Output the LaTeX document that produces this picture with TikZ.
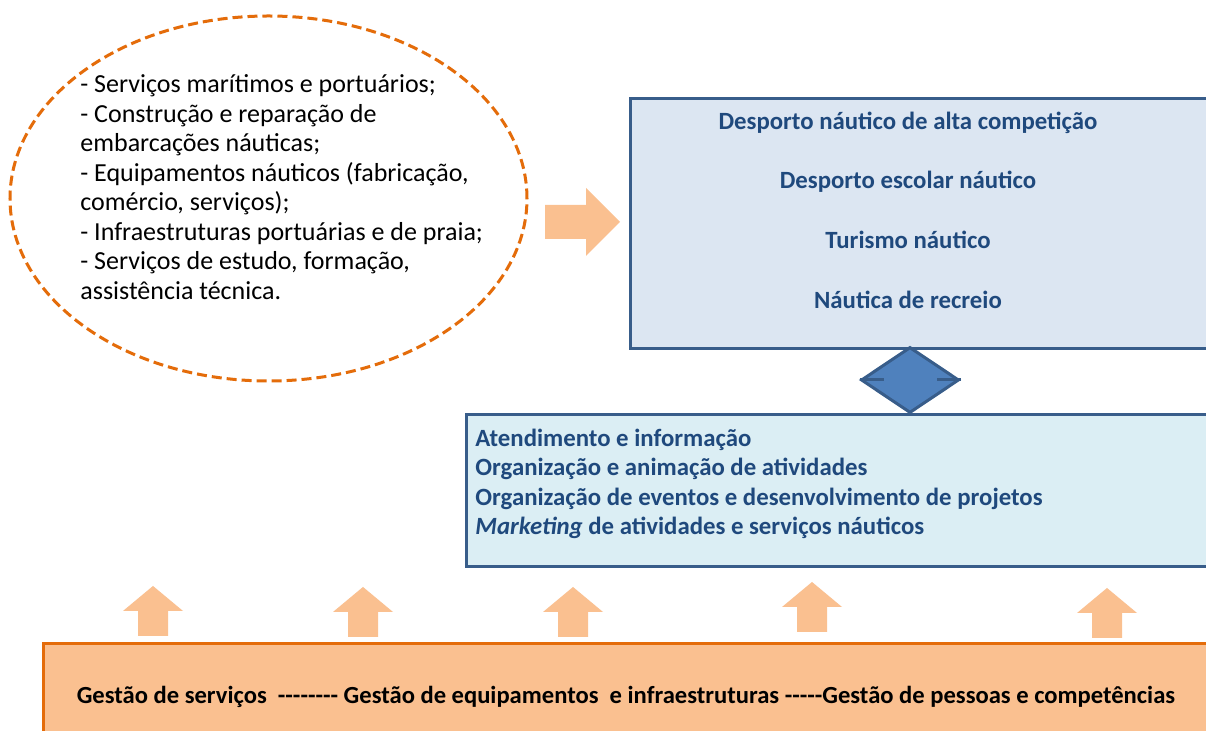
\documentclass[tikz,border=0pt]{standalone}
\usepackage{fontspec}
\setmainfont{Carlito}[Ligatures=TeXOff]
\usetikzlibrary{shapes.geometric}
\definecolor{laranja}{HTML}{E46C0A}
\definecolor{pessego}{HTML}{FAC090}
\definecolor{azulborda}{HTML}{385D8A}
\definecolor{azultexto}{HTML}{1F497D}
\definecolor{azulclaro}{HTML}{DCE6F2}
\definecolor{cianoclaro}{HTML}{DBEEF4}
\definecolor{azulmeio}{HTML}{4F81BD}
\tikzset{
  caixa/.style={draw=azulborda,line width=1.5pt,inner sep=0,anchor=north west},
  titulo/.style={text=azultexto,inner sep=0,font=\fontsize{12.4}{14.7}\selectfont\bfseries},
  seta/.style={fill=pessego}
}
\begin{document}
\begin{tikzpicture}[x=0.5pt,y=-0.5pt]
\clip (0,0) rectangle (1206,731);
\fill[white] (0,0) rectangle (1206,731);

% elipse com as atividades de suporte
\node[ellipse,draw=laranja,line width=1.5pt,dash pattern=on 5pt off 2.5pt,
  minimum width=258.5pt,minimum height=182.5pt,inner sep=0] (servicos) at (268.5,198.5) {};
\node[anchor=west,align=left,inner sep=0,font=\fontsize{13}{14.75}\selectfont] (lista) at (80,187)
{- Serviços marítimos e portuários;\\
- Construção e reparação de\\
embarcações náuticas;\\
- Equipamentos náuticos (fabricação,\\
comércio, serviços);\\
- Infraestruturas portuárias e de praia;\\
- Serviços de estudo, formação,\\
assistência técnica.};

\fill[seta] (545,205)--(586,205)--(586,188)--(620,222)--(586,256)--(586,239)--(545,239)--cycle;

% caixa superior
\node[caixa,fill=azulclaro,minimum width=295pt,minimum height=125pt] (desporto) at (629,97) {};
\node[titulo] (alta) at (908,123) {Desporto náutico de alta competição};
\node[titulo] (escolar) at (908,182) {Desporto escolar náutico};
\node[titulo] (turismo) at (908,240) {Turismo náutico};
\node[titulo] (recreio) at (908,300) {Náutica de recreio};

% caixa do meio
\node[caixa,fill=cianoclaro,minimum width=380pt,minimum height=76pt] (animacao) at (465,413) {};
\node[titulo,anchor=west,align=left] (funcoes) at (475,484)
{Atendimento e informação\\
Organização e animação de atividades\\
Organização de eventos e desenvolvimento de projetos\\
\textit{Marketing} de atividades e serviços náuticos};

% losango de ligacao
\node[diamond,draw=azulborda,fill=azulmeio,line width=1.5pt,inner sep=0,
  minimum width=49pt,minimum height=33pt] (ligacao) at (910,380) {};
\draw[azulborda,line width=1.5pt] (ligacao.west) -- ++(24,0);
\draw[azulborda,line width=1.5pt] (ligacao.east) -- ++(-24,0);

% base
\node[caixa,draw=laranja,fill=pessego,minimum width=600pt,minimum height=60pt] (gestao) at (42,642) {};
\node[inner sep=0,font=\fontsize{12.3}{14}\selectfont\bfseries] (linha) at (626,697)
{Gestão de serviços~~-------- Gestão de equipamentos~~e infraestruturas -----Gestão de pessoas e competências};

\foreach \x/\y in {153/586,363/587,573/587,812/582,1107/588}
  \fill[seta] (\x,\y) -- ++(30,25) -- ++(-15,0) -- ++(0,25) -- ++(-30,0) -- ++(0,-25) -- ++(-15,0) -- cycle;

\end{tikzpicture}
\end{document}
